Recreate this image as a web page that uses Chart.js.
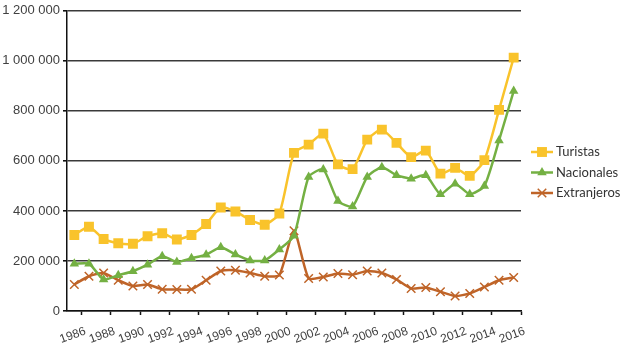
<!DOCTYPE html>
<html>
<head>
<meta charset="utf-8">
<style>
  html, body { margin: 0; padding: 0; background: #fff; }
  #wrap { width: 624px; height: 350px; position: relative; }
</style>
<script src="https://cdn.jsdelivr.net/npm/chart.js@4/dist/chart.umd.min.js"></script>
</head>
<body>
<div id="wrap"><canvas id="chart"></canvas></div>
<script>
// Years on the x axis (every year is a category, labels shown every 2 years)
var years = ['1986','1987','1988','1989','1990','1991','1992','1993','1994','1995',
             '1996','1997','1998','1999','2000','2001','2002','2003','2004','2005',
             '2006','2007','2008','2009','2010','2011','2012','2013','2014','2015','2016'];

var turistas = [304000, 337000, 288000, 271000, 269000, 299000, 311000, 286000, 304000, 348000,
                414000, 398000, 364000, 345000, 390000, 632000, 665000, 709000, 586000, 567000,
                685000, 725000, 672000, 615000, 641000, 549000, 572000, 540000, 603000, 804000, 1013000];

var nacionales = [189000, 189000, 126000, 143000, 159000, 185000, 219000, 196000, 211000, 225000,
                  255000, 226000, 202000, 202000, 246000, 301000, 536000, 566000, 440000, 418000,
                  536000, 575000, 543000, 529000, 543000, 467000, 509000, 467000, 500000, 682000, 879000];

var extranjeros = [106000, 139000, 152000, 123000, 100000, 106000, 87000, 86000, 87000, 123000,
                   160000, 163000, 152000, 139000, 144000, 321000, 130000, 136000, 150000, 145000,
                   160000, 152000, 126000, 90000, 94000, 77000, 60000, 70000, 96000, 123000, 134000];

var yTicks = [0, 200000, 400000, 600000, 800000, 1000000, 1200000];

function fmt(v) {
    return String(v).replace(/\B(?=(\d{3})+(?!\d))/g, ' ');
}

// Legend drawn like the Excel one: short line with the marker on it
var sideLegend = {
    id: 'sideLegend',
    afterDraw: function (chart) {
        var ctx = chart.ctx;
        var x0 = 531, x1 = 553, tx = 556;
        var ys = [152, 172.5, 193];
        ctx.save();
        chart.data.datasets.forEach(function (ds, i) {
            var y = ys[i];
            ctx.strokeStyle = ds.borderColor;
            ctx.lineWidth = ds.borderWidth;
            ctx.beginPath();
            ctx.moveTo(x0, y);
            ctx.lineTo(x1, y);
            ctx.stroke();
            ctx.fillStyle = ds.pointBackgroundColor;
            ctx.strokeStyle = ds.pointBorderColor;
            ctx.lineWidth = ds.pointBorderWidth;
            Chart.helpers.drawPoint(ctx, {
                pointStyle: ds.pointStyle,
                radius: ds.pointRadius,
                rotation: 0,
                borderWidth: ds.pointBorderWidth
            }, (x0 + x1) / 2, y);
            ctx.fillStyle = '#333';
            ctx.font = '13px Lato';
            ctx.textAlign = 'left';
            ctx.textBaseline = 'middle';
            ctx.fillText(ds.label, tx, y);
        });
        ctx.restore();
    }
};

var ctx = document.getElementById('chart').getContext('2d');

new Chart(ctx, {
    type: 'line',
    data: {
        labels: years,
        datasets: [{
            label: 'Turistas',
            data: turistas,
            borderColor: '#F9C32B',
            backgroundColor: '#F9C32B',
            pointBackgroundColor: '#F9C32B',
            pointBorderColor: '#F9C32B',
            pointBorderWidth: 0,
            pointStyle: 'rect',
            pointRadius: 7,
            borderWidth: 2.5,
            tension: 0.2
        }, {
            label: 'Nacionales',
            data: nacionales,
            borderColor: '#74B043',
            backgroundColor: '#74B043',
            pointBackgroundColor: '#74B043',
            pointBorderColor: '#74B043',
            pointBorderWidth: 0,
            pointStyle: 'triangle',
            pointRadius: 5.5,
            borderWidth: 2.5,
            tension: 0.2
        }, {
            label: 'Extranjeros',
            data: extranjeros,
            borderColor: '#BF6428',
            backgroundColor: '#BF6428',
            pointBackgroundColor: '#BF6428',
            pointBorderColor: '#BF6428',
            pointBorderWidth: 1.5,
            pointStyle: 'crossRot',
            pointRadius: 6,
            borderWidth: 2.5,
            tension: 0.2
        }]
    },
    options: {
        responsive: true,
        maintainAspectRatio: false,
        animation: false,
        layout: { padding: { top: 8, right: 103, left: 0, bottom: 0 } },
        plugins: {
            legend: { display: false },
            tooltip: { enabled: false }
        },
        scales: {
            x: {
                type: 'category',
                offset: true,
                grid: {
                    offset: true,
                    drawOnChartArea: false,
                    drawTicks: true,
                    tickLength: 4,
                    tickWidth: 1.5,
                    tickColor: function (c) {
                        return (c.index === undefined || c.index % 2 === 1) ? '#111' : 'rgba(0,0,0,0)';
                    }
                },
                border: { color: '#111', width: 1.5 },
                ticks: {
                    autoSkip: false,
                    minRotation: 20,
                    maxRotation: 20,
                    padding: 9,
                    labelOffset: 11,
                    color: '#404040',
                    font: { family: 'Liberation Sans', size: 12 },
                    callback: function (val, i) {
                        return i % 2 === 0 ? years[i] : '';
                    }
                },
                afterFit: function (scale) { scale.height = 39; }
            },
            y: {
                min: 0,
                max: 1200000,
                afterBuildTicks: function (scale) {
                    scale.ticks = yTicks.map(function (v) { return { value: v }; });
                },
                grid: {
                    color: '#3a3a3a',
                    lineWidth: 1.6,
                    drawTicks: true,
                    tickLength: 4,
                    tickColor: '#111'
                },
                border: { color: '#111', width: 1.5 },
                ticks: {
                    padding: 3,
                    color: '#404040',
                    font: { family: 'Liberation Sans', size: 13 },
                    callback: function (v) { return fmt(v); }
                },
                afterFit: function (scale) { scale.width = 67; }
            }
        }
    },
    plugins: [sideLegend]
});
</script>
</body>
</html>
